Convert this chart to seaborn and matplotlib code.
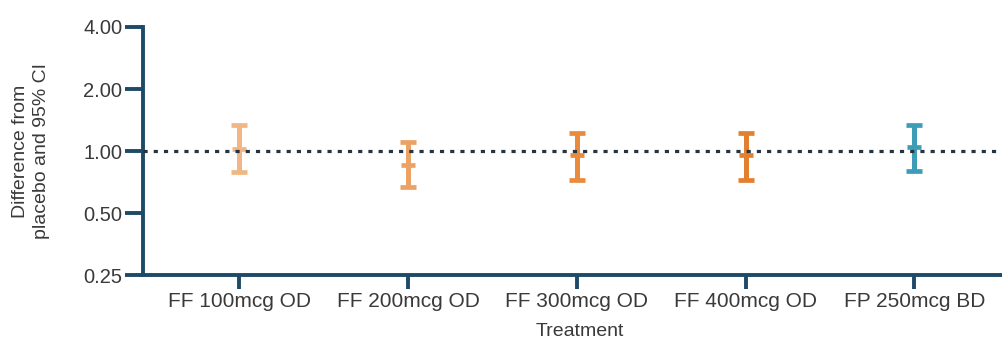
import numpy as np
import pandas as pd
import seaborn as sns
import matplotlib.pyplot as plt
from matplotlib.ticker import FixedLocator, NullLocator

treatments = ["FF 100mcg OD", "FF 200mcg OD", "FF 300mcg OD", "FF 400mcg OD", "FP 250mcg BD"]
estimate = [1.02, 0.86, 0.96, 0.96, 1.05]
lower = [0.79, 0.67, 0.72, 0.72, 0.80]
upper = [1.34, 1.11, 1.22, 1.22, 1.34]
colors = ["#F2B684", "#EBA264", "#E98B3C", "#E2802F", "#3E9DB6"]
yticks = [0.25, 0.5, 1.0, 2.0, 4.0]

axis_col = "#1D4A66"
text_col = "#3A3A3A"

sns.set_theme(style="ticks")
plt.rcParams['font.family'] = ['Liberation Sans', 'DejaVu Sans']

df = pd.DataFrame({"treatment": treatments, "estimate": estimate,
                   "lower": lower, "upper": upper})

fig = plt.figure(figsize=(10.03, 3.41), dpi=100)
ax = fig.add_axes([0.1426, 0.193, 0.87, 0.728])

sns.scatterplot(data=df, x="treatment", y="estimate", hue="treatment",
                palette=colors, marker="_", s=100, linewidth=3.4,
                legend=False, ax=ax, zorder=3)

for i, row in df.iterrows():
    ax.errorbar(i, row["estimate"],
                yerr=[[row["estimate"] - row["lower"]], [row["upper"] - row["estimate"]]],
                fmt="none", ecolor=colors[i], elinewidth=3.6, capsize=6,
                capthick=3.4, zorder=2)

ax.axhline(1.0, color="#27343F", lw=2.3, ls=(0, (1.3, 1.9)), zorder=4)

ax.set_yscale("log", base=2)
ax.set_ylim(0.25, 4.0)
ax.yaxis.set_major_locator(FixedLocator(yticks))
ax.yaxis.set_minor_locator(NullLocator())
ax.set_yticklabels(["%.2f" % v for v in yticks])
ax.set_xlim(-0.57, 4.6)

for s in ["top", "right"]:
    ax.spines[s].set_visible(False)
for s in ["left", "bottom"]:
    ax.spines[s].set_color(axis_col)
    ax.spines[s].set_linewidth(2.8)
ax.tick_params(axis="y", colors=axis_col, width=2.8, length=13,
               labelcolor=text_col, labelsize=14.5, pad=2)
ax.tick_params(axis="x", colors=axis_col, width=2.8, length=10,
               labelcolor=text_col, labelsize=15, pad=2)

ax.set_xlabel("Treatment", fontsize=14, color=text_col, labelpad=9)
ax.set_ylabel("Difference from\nplacebo and 95% CI", fontsize=14,
              color=text_col, labelpad=24, linespacing=1.3)

fig.savefig("out.png", dpi=100)
